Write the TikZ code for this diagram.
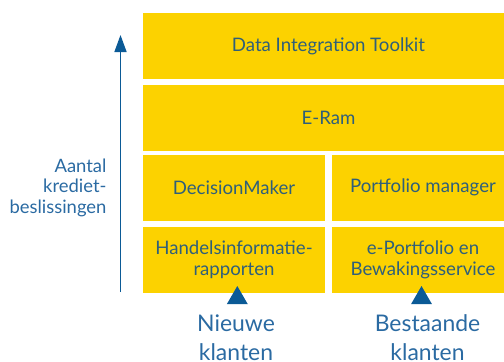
\documentclass[tikz,border=0pt]{standalone}
\usepackage{fontspec}
\setmainfont{Lato}
\usetikzlibrary{arrows.meta,shapes.geometric}
\definecolor{rowyellow}{HTML}{FCD200}
\definecolor{boxtext}{HTML}{2F5F7A}
\definecolor{axisblue}{HTML}{0B5A96}
\definecolor{labelblue}{HTML}{2A6AA2}

\begin{document}
\begin{tikzpicture}[x=1bp,y=-1bp,
	tool/.style={rectangle,fill=rowyellow,inner sep=0pt,outer sep=0pt,align=center,
		text=boxtext,font=\fontsize{18.7}{21.5}\selectfont},
	marker/.style={regular polygon,regular polygon sides=3,fill=axisblue,
		minimum size=24.2bp,inner sep=0pt,outer sep=0pt},
	klant/.style={align=center,text=labelblue,font=\fontsize{23}{29}\selectfont}]
	\useasboundingbox (0,0) rectangle (504,361);
	\clip (0,0) rectangle (504,361);
	\node [tool,minimum width=371bp,minimum height=66bp] (dit) at (328.5,46) {Data Integration Toolkit};
	\node [tool,minimum width=371bp,minimum height=66bp] (eram) at (328.5,118) {E-Ram};
	\node [tool,minimum width=182bp,minimum height=65.5bp] (dm) at (234,187.75) {DecisionMaker};
	\node [tool,minimum width=182bp,minimum height=65.5bp] (pm) at (423,187.75) {Portfolio manager};
	\node [tool,minimum width=182bp,minimum height=65.7bp] (hir) at (234,259.85) {Handelsinformatie-\\rapporten};
	\node [tool,minimum width=182bp,minimum height=65.7bp] (epf) at (423,259.85) {e-Portfolio en\\Bewakingsservice};
	%
	\coordinate (asvoet) at (120.5,292);
	\coordinate (astop) at (120.5,35);
	\node [align=right,anchor=base east,text=labelblue,font=\fontsize{18.5}{20.5}\selectfont] (aantal) at (110,213) {Aantal\\krediet-\\beslissingen};
	%
	\node [marker] (nieuwpijl) at (237.3,298.1) {};
	\node [marker] (bestpijl) at (421.5,298.1) {};
	\node [klant,anchor=base] (nieuw) at (236,360.7) {Nieuwe\\klanten};
	\node [klant,anchor=base] (bestaand) at (427.5,360.7) {Bestaande\\klanten};
	%
	\draw [-{Triangle[width=12bp,length=17bp]},line width=1.5bp,axisblue] (asvoet) -- (astop);
\end{tikzpicture}
\end{document}
